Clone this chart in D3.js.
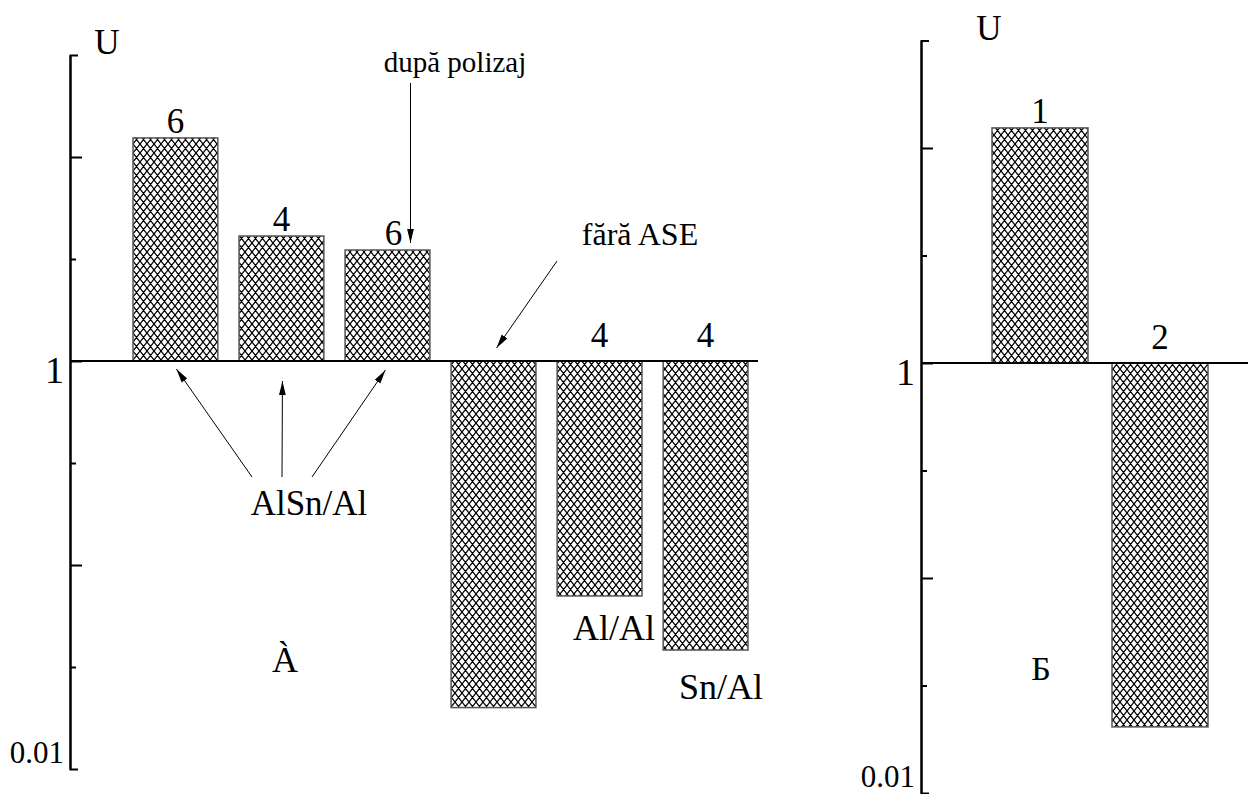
<!DOCTYPE html>
<html>
<head>
<meta charset="utf-8">
<script src="https://cdn.jsdelivr.net/npm/d3@7"></script>
<style>
  body { margin: 0; background: #fff; }
  svg text { font-family: "Liberation Serif", "Times New Roman", serif; fill: #000; }
</style>
</head>
<body>
<svg id="chart" width="1249" height="794"></svg>
<script>
// date panoul A
var categoriiA = ["AlSn/Al 6", "AlSn/Al 4", "AlSn/Al 6p", "fara ASE", "Al/Al", "Sn/Al"];
var valoriA = [12.4, 4.1, 3.5, 0.02, 0.0705, 0.0383];
var eticheteA = ["6", "4", "6", "", "4", "4"];

// date panoul Б
var categoriiB = ["1", "2"];
var valoriB = [12.4, 0.0203];
var eticheteB = ["1", "2"];

var ticksMajore = [0.1, 1, 10];
var ticksMinore = [Math.sqrt(10) / 100, Math.sqrt(10) / 10, Math.sqrt(10)];
var eticheteAxa = [1, 0.01];

var svg = d3.select("#chart");

// hasura
var defs = svg.append("defs");
var pat = defs.append("pattern")
    .attr("id", "hasura")
    .attr("patternUnits", "userSpaceOnUse")
    .attr("width", 7)
    .attr("height", 9);
pat.append("rect").attr("width", 7).attr("height", 9).attr("fill", "#fff");
pat.append("path").attr("d", "M0,0L7,9M7,0L0,9M-3.5,4.5L0,9M3.5,-4.5L7,0M7,9L10.5,13.5M3.5,13.5L7,9")
    .attr("stroke", "#000").attr("stroke-width", 1.25).attr("fill", "none");

var m = defs.append("marker")
    .attr("id", "sageata")
    .attr("viewBox", "0 0 10 10")
    .attr("refX", 10).attr("refY", 5)
    .attr("markerWidth", 14).attr("markerHeight", 14)
    .attr("markerUnits", "userSpaceOnUse")
    .attr("orient", "auto");
m.append("path").attr("d", "M0,2.6L10,5L0,7.4Z").attr("fill", "#000");

function desenPanou(cfg) {
    var y = d3.scaleLog().domain([0.01, Math.pow(10, 1.5)]).range([cfg.yJos, cfg.ySus]);
    var x = d3.scaleBand().domain(cfg.categorii).range(cfg.xRange)
        .paddingInner(0.2).paddingOuter(0.2);

    var g = svg.append("g");

    // bare
    g.selectAll("rect.bara")
        .data(cfg.valori)
        .enter().append("rect")
        .attr("class", "bara")
        .attr("x", function (d, i) { return x(cfg.categorii[i]); })
        .attr("width", x.bandwidth())
        .attr("y", function (d) { return Math.min(y(d), y(1)); })
        .attr("height", function (d) { return Math.abs(y(d) - y(1)); })
        .attr("fill", "url(#hasura)")
        .attr("stroke", "#555")
        .attr("stroke-width", 1.5);

    // linia de baza
    g.append("line")
        .attr("x1", cfg.xAxa).attr("x2", cfg.xBaza)
        .attr("y1", y(1)).attr("y2", y(1))
        .attr("stroke", "#000").attr("stroke-width", 2);

    // axa
    var axa = d3.axisRight(y).tickValues(ticksMajore).tickSize(12).tickSizeOuter(8).tickFormat("");
    g.append("g").attr("transform", "translate(" + cfg.xAxa + ",0)").call(axa);
    var axaMin = d3.axisRight(y).tickValues(ticksMinore).tickSize(6).tickSizeOuter(0).tickFormat("");
    g.append("g").attr("transform", "translate(" + cfg.xAxa + ",0)").call(axaMin);
    g.selectAll(".domain, .tick line").attr("stroke", "#000").attr("stroke-width", 2);

    eticheteAxa.forEach(function (v) {
        g.append("text")
            .attr("x", cfg.xAxa - 6)
            .attr("y", y(v) + (v == 1 ? 22 : cfg.dy001))
            .attr("text-anchor", "end")
            .style("font-size", v == 1 ? "38px" : "31px")
            .text(v == 1 ? "1" : "0.01");
    });

    g.append("text")
        .attr("x", cfg.xU).attr("y", cfg.yU)
        .attr("text-anchor", "middle")
        .style("font-size", "35px")
        .text("U");

    // etichete deasupra barelor
    g.selectAll("text.et")
        .data(cfg.etichete)
        .enter().append("text")
        .attr("class", "et")
        .attr("x", function (d, i) { return x(cfg.categorii[i]) + x.bandwidth() / 2 + (cfg.dxEt ? cfg.dxEt[i] : 0); })
        .attr("y", function (d, i) { return cfg.valori[i] > 1 ? y(cfg.valori[i]) - 5 : y(1) - 14; })
        .attr("text-anchor", "middle")
        .style("font-size", "35px")
        .text(function (d) { return d; });

    return { x: x, y: y, g: g };
}

var A = desenPanou({
    categorii: categoriiA, valori: valoriA, etichete: eticheteA,
    yJos: 769, ySus: 55, xRange: [111.8, 769.2], xAxa: 70, xBaza: 758,
    xU: 107, yU: 54, dy001: -6, dxEt: [0, 0, 6, 0, 0, 0]
});

var B = desenPanou({
    categorii: categoriiB, valori: valoriB, etichete: eticheteB,
    yJos: 793, ySus: 40.5, xRange: [968, 1232], xAxa: 921, xBaza: 1248,
    xU: 989, yU: 40, dy001: -6
});

function sageata(g, x1, y1, x2, y2) {
    g.append("line")
        .attr("x1", x1).attr("y1", y1).attr("x2", x2).attr("y2", y2)
        .attr("stroke", "#000").attr("stroke-width", 1)
        .attr("marker-end", "url(#sageata)");
}

function text(g, x, y, s, size, anchor) {
    g.append("text").attr("x", x).attr("y", y)
        .attr("text-anchor", anchor || "middle")
        .style("font-size", size + "px")
        .text(s);
}

// adnotari panoul A
var xc = function (i) { return A.x(categoriiA[i]) + A.x.bandwidth() / 2; };
var y1A = A.y(1);
text(A.g, 309, 515, "AlSn/Al", 35);
sageata(A.g, 252, 477, xc(0) + 1, y1A + 8);
sageata(A.g, 282, 477, xc(1) + 1, y1A + 20);
sageata(A.g, 312, 477, xc(2) - 2, y1A + 9);

text(A.g, 455, 72, "după polizaj", 29);
sageata(A.g, xc(2) + 23, 83, xc(2) + 23, A.y(valoriA[2]) - 7);

text(A.g, 640, 245, "fără ASE", 32);
sageata(A.g, 557, 261, xc(3) + 3, y1A - 13);

text(A.g, 285, 672, "À", 36);
text(A.g, 614, 640, "Al/Al", 36);
text(A.g, 721, 699, "Sn/Al", 36);

// panoul Б
text(B.g, 1041, 680, "Б", 34);
</script>
</body>
</html>
